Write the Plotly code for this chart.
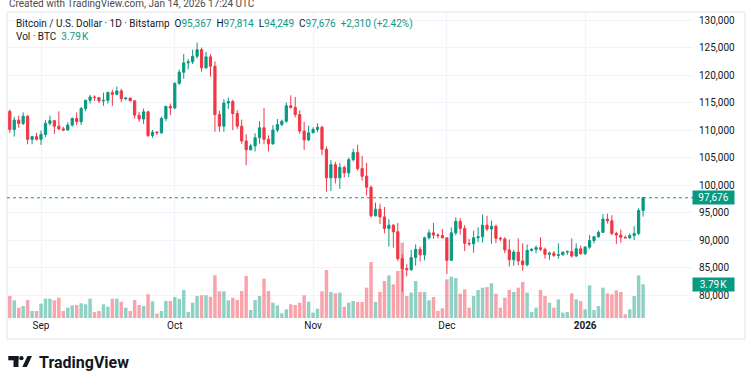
import plotly.graph_objects as go
import pandas as pd

# ---------------- data (prices in thousands of USD, volume in thousands of BTC) -------------
dates = pd.date_range("2025-08-25", periods=143, freq="D")

open_k = [113.4, 110.1, 111.8, 111.2, 112.5, 108.3, 108.8, 108.3, 109.2, 111.2,
          111.7, 110.7, 110.2, 110.0, 110.9, 112.1, 111.5, 113.9, 115.4, 116.0,
          115.9, 115.3, 115.4, 116.8, 116.5, 117.1, 115.7, 115.8, 115.3, 112.7,
          112.0, 113.3, 109.0, 109.6, 109.5, 112.1, 114.3, 114.0, 118.5, 120.5,
          122.2, 122.4, 123.4, 124.6, 121.3, 123.3, 121.6, 112.8, 110.7, 114.9,
          115.2, 113.0, 110.7, 108.0, 106.4, 107.1, 108.6, 110.4, 108.3, 107.5,
          110.0, 111.0, 111.6, 114.4, 114.1, 112.8, 109.8, 108.2, 109.5, 110.1,
          110.5, 106.5, 101.3, 103.7, 101.3, 103.2, 102.2, 104.6, 105.9, 103.0,
          101.6, 99.6, 94.4, 95.6, 94.2, 92.1, 92.7, 91.5, 86.6, 84.8,
          84.6, 86.8, 88.3, 87.3, 90.4, 91.3, 90.9, 90.8, 90.4, 86.3,
          91.3, 93.4, 92.1, 89.4, 89.3, 90.4, 90.6, 92.7, 92.0, 92.5,
          90.3, 90.2, 88.2, 86.4, 87.8, 86.2, 85.5, 88.1, 88.3, 88.6,
          88.3, 87.4, 87.6, 87.2, 87.3, 87.8, 87.9, 87.1, 88.4, 87.5,
          88.7, 89.9, 90.6, 91.4, 93.8, 93.5, 91.2, 90.9, 90.5, 90.4,
          90.8, 91.2, 95.367]

close_k = [110.1, 111.8, 111.2, 112.5, 108.3, 108.8, 108.3, 109.2, 111.2, 111.7,
           110.7, 110.2, 110.0, 110.9, 112.1, 111.5, 113.9, 115.4, 116.0, 115.9,
           115.3, 115.4, 116.8, 116.5, 117.1, 115.7, 115.8, 115.3, 112.7, 112.0,
           113.3, 109.0, 109.6, 109.5, 112.1, 114.3, 114.0, 118.5, 120.5, 122.2,
           122.4, 123.4, 124.6, 121.3, 123.3, 121.6, 112.8, 110.7, 114.9, 115.2,
           113.0, 110.7, 108.0, 106.4, 107.1, 108.6, 110.4, 108.3, 107.5, 110.0,
           111.0, 111.6, 114.4, 114.1, 112.8, 109.8, 108.2, 109.5, 110.1, 110.5,
           106.5, 101.3, 103.7, 101.3, 103.2, 102.2, 104.6, 105.9, 103.0, 101.6,
           99.6, 94.4, 95.6, 94.2, 92.1, 92.7, 91.5, 86.6, 84.8, 84.6,
           86.8, 88.3, 87.3, 90.4, 91.3, 90.9, 90.8, 90.4, 86.3, 91.3,
           93.4, 92.1, 89.4, 89.3, 90.4, 90.6, 92.7, 92.0, 92.5, 90.3,
           90.2, 88.2, 86.4, 87.8, 86.2, 85.5, 88.1, 88.3, 88.6, 88.3,
           87.4, 87.6, 87.2, 87.3, 87.8, 87.9, 87.1, 88.4, 87.5, 88.7,
           89.9, 90.6, 91.4, 93.8, 93.5, 91.2, 90.9, 90.5, 90.4, 90.8,
           91.2, 95.367, 97.676]

high_k = [113.7, 112.4, 112.6, 113.2, 112.7, 108.9, 109.5, 109.9, 111.8, 112.6,
          111.8, 113.4, 110.6, 111.4, 112.3, 113.2, 114.2, 115.5, 116.4, 116.3,
          116.0, 116.8, 117.0, 117.3, 117.9, 117.5, 116.0, 115.9, 115.4, 113.3,
          113.9, 113.5, 110.0, 109.8, 112.4, 114.4, 114.8, 118.6, 121.0, 123.8,
          122.9, 124.6, 125.9, 125.0, 124.2, 123.8, 122.5, 113.5, 115.6, 115.9,
          115.5, 113.6, 111.9, 109.2, 107.5, 109.4, 111.6, 114.0, 109.0, 110.9,
          112.0, 111.9, 115.0, 116.3, 116.0, 113.6, 111.5, 110.8, 110.5, 111.2,
          110.8, 107.0, 104.5, 104.2, 104.0, 103.5, 105.0, 106.6, 107.3, 105.3,
          104.0, 99.9, 96.8, 96.6, 96.0, 93.8, 92.9, 93.1, 87.4, 85.6,
          88.2, 89.2, 88.8, 90.6, 91.9, 93.1, 91.2, 92.0, 90.4, 92.3,
          94.1, 94.0, 92.7, 90.2, 91.7, 92.3, 94.6, 94.4, 93.5, 92.8,
          90.6, 90.5, 90.1, 88.2, 90.3, 89.4, 89.2, 88.5, 89.0, 90.5,
          88.6, 87.9, 88.0, 89.4, 87.9, 88.1, 90.3, 89.4, 89.0, 88.9,
          90.9, 90.7, 91.7, 94.7, 94.8, 94.5, 91.5, 91.9, 90.8, 91.2,
          92.5, 95.8, 97.814]

low_k = [109.5, 108.8, 110.4, 110.9, 107.4, 107.4, 108.1, 107.3, 108.7, 110.8,
         109.3, 110.0, 109.8, 109.9, 110.6, 110.9, 110.9, 113.4, 114.8, 115.3,
         114.9, 114.4, 114.8, 114.4, 116.3, 115.1, 115.4, 115.2, 112.1, 111.5,
         111.1, 108.7, 108.6, 109.1, 109.3, 111.6, 112.7, 113.8, 118.2, 119.3,
         121.0, 122.0, 123.0, 120.6, 121.1, 119.7, 109.7, 109.7, 109.7, 113.8,
         110.0, 110.2, 107.5, 103.6, 106.3, 106.1, 107.5, 107.4, 106.1, 107.3,
         109.6, 110.7, 111.3, 113.9, 112.3, 109.3, 106.4, 108.0, 109.4, 109.6,
         105.4, 98.8, 98.9, 100.3, 99.3, 101.4, 101.4, 104.3, 102.6, 100.8,
         98.1, 94.1, 94.3, 92.9, 91.2, 88.8, 88.6, 86.2, 80.6, 83.4,
         84.4, 85.3, 86.1, 86.3, 90.1, 90.2, 90.3, 90.3, 83.8, 86.2,
         90.9, 91.0, 88.0, 88.9, 87.7, 89.6, 89.5, 91.6, 89.3, 89.5,
         89.8, 87.6, 85.2, 85.3, 85.4, 84.4, 85.2, 87.9, 87.6, 88.0,
         86.6, 86.4, 86.9, 86.6, 87.2, 87.3, 86.8, 86.9, 87.3, 87.3,
         88.4, 89.4, 90.4, 91.3, 93.0, 90.9, 89.3, 89.5, 90.3, 90.2,
         90.0, 90.9, 94.249]

volume_k = [2.47, 1.99, 1.16, 1.35, 2.02, 0.79, 0.79, 1.61, 2.17, 2.17,
            1.99, 2.28, 0.79, 1.16, 1.42, 1.46, 1.65, 1.54, 2.17, 0.67,
            0.79, 1.54, 1.27, 2.17, 2.17, 1.83, 1.16, 0.79, 2.02, 1.46,
            1.35, 2.66, 1.87, 0.49, 0.79, 1.91, 1.91, 2.36, 2.17, 3.15,
            0.67, 1.72, 2.47, 2.55, 2.55, 2.39, 4.80, 3.00, 3.00, 1.99,
            2.28, 2.02, 3.03, 4.72, 0.90, 2.02, 2.47, 4.42, 3.03, 1.72,
            1.42, 0.53, 0.98, 1.54, 1.46, 1.72, 2.55, 1.83, 0.60, 1.05,
            3.00, 5.39, 2.92, 2.77, 2.85, 1.27, 1.72, 1.91, 1.80, 1.80,
            3.41, 6.29, 1.80, 2.92, 4.16, 4.79, 3.78, 5.28, 8.46, 2.47,
            2.85, 4.16, 2.92, 2.92, 1.99, 2.36, 0.79, 1.09, 4.34, 4.64,
            4.49, 2.73, 3.22, 1.16, 2.47, 3.15, 3.41, 3.48, 3.90, 2.73,
            1.16, 2.28, 3.15, 2.92, 3.41, 4.04, 2.85, 0.67, 1.16, 3.15,
            2.47, 1.72, 1.16, 2.10, 0.60, 0.67, 2.77, 2.10, 1.91, 0.98,
            3.67, 0.90, 1.35, 3.41, 2.77, 2.66, 3.11, 2.92, 0.42, 0.98,
            2.47, 4.79, 3.79]

price_ticks = [80000, 85000, 90000, 95000, 100000, 105000, 110000, 115000, 120000, 125000, 130000]
month_ticks = ["2025-09-01", "2025-10-01", "2025-11-01", "2025-12-01", "2026-01-01"]
month_labels = ["Sep", "Oct", "Nov", "Dec", "<b>2026</b>"]

opens = [v * 1000 for v in open_k]
highs = [v * 1000 for v in high_k]
lows = [v * 1000 for v in low_k]
closes = [v * 1000 for v in close_k]

# ---------------- styling ----------------
UP = "#089981"
DOWN = "#F23645"
UP_VOL = "rgba(8,153,129,0.45)"
DOWN_VOL = "rgba(242,54,69,0.45)"
GRID = "#f0f3fa"
TXT = "#131722"
FONT = "Roboto, Inter, 'Liberation Sans', sans-serif"

W, H = 750, 375
L, R, T, B = 7, 57, 12, 57
PW, PH = W - L - R, H - T - B


def px_x(px):
    return (px - L) / PW


def px_y(py):
    return (H - B - py) / PH


vol_colors = [UP_VOL if c >= o else DOWN_VOL for o, c in zip(opens, closes)]

fig = go.Figure()
fig.add_trace(go.Bar(
    x=dates, y=volume_k, marker=dict(color=vol_colors, line=dict(width=0)),
    yaxis="y", hoverinfo="skip", showlegend=False,
))
fig.add_trace(go.Candlestick(
    x=dates, open=opens, high=highs, low=lows, close=closes, yaxis="y2",
    increasing=dict(line=dict(color=UP, width=1), fillcolor=UP),
    decreasing=dict(line=dict(color=DOWN, width=1), fillcolor=DOWN),
    whiskerwidth=0, hoverinfo="skip", showlegend=False,
))

last_close = closes[-1]

shapes = [
    # last price dotted line
    dict(type="line", xref="paper", x0=0, x1=1, yref="y2", y0=last_close, y1=last_close,
         line=dict(color=UP, width=1, dash="dot")),
    # panel border
    dict(type="rect", xref="paper", yref="paper", x0=px_x(7), x1=px_x(745),
         y0=px_y(339), y1=px_y(12), line=dict(color="#e0e3eb", width=1), layer="below"),
    # TradingView logo mark
    dict(type="rect", xref="paper", yref="paper", x0=px_x(8.3), x1=px_x(18.5), y0=px_y(360.3), y1=px_y(356),
         fillcolor=TXT, line=dict(width=0)),
    dict(type="rect", xref="paper", yref="paper", x0=px_x(13.5), x1=px_x(18.5), y0=px_y(367), y1=px_y(356),
         fillcolor=TXT, line=dict(width=0)),
    dict(type="circle", xref="paper", yref="paper", x0=px_x(19.3), x1=px_x(23.6), y0=px_y(360.3), y1=px_y(356),
         fillcolor=TXT, line=dict(width=0)),
    dict(type="path", xref="paper", yref="paper",
         path=f"M {px_x(22.3)} {px_y(367)} L {px_x(26.8)} {px_y(367)} L {px_x(32)} {px_y(356)} L {px_x(27.5)} {px_y(356)} Z",
         fillcolor=TXT, line=dict(width=0)),
]


def fmt(v):
    return f"{v:,.0f}"


teal_span = "<span style='color:%s'>%s</span>"
legend_line = (
    "Bitcoin / U.S. Dollar · 1D · Bitstamp&nbsp;&nbsp;"
    + "O" + teal_span % (UP, fmt(opens[-1])) + "&nbsp;&nbsp;"
    + "H" + teal_span % (UP, fmt(highs[-1])) + "&nbsp;&nbsp;"
    + "L" + teal_span % (UP, fmt(lows[-1])) + "&nbsp;&nbsp;"
    + "C" + teal_span % (UP, fmt(closes[-1])) + "&nbsp;&nbsp;"
    + teal_span % (UP, "+2,310 (+2.42%)")
)
vol_line = "Vol · BTC&nbsp;&nbsp;" + teal_span % (UP, f"{volume_k[-1]:.2f}\u202fK")

annotations = [
    dict(text="Created with TradingView.com, Jan 14, 2026 17:24 UTC", xref="paper", yref="paper",
         x=px_x(7), y=px_y(3), xanchor="left", yanchor="middle", showarrow=False,
         font=dict(family=FONT, size=10, color="#4a4a4a")),
    dict(text=legend_line, xref="paper", yref="paper", x=px_x(13.5), y=px_y(24.5),
         xanchor="left", yanchor="middle", showarrow=False, font=dict(family=FONT, size=10, color=TXT)),
    dict(text=vol_line, xref="paper", yref="paper", x=px_x(13.5), y=px_y(36.5),
         xanchor="left", yanchor="middle", showarrow=False, font=dict(family=FONT, size=10, color=TXT)),
    dict(text=fmt(last_close), xref="paper", yref="y2", x=px_x(692), y=last_close,
         xanchor="left", yanchor="middle", showarrow=False, bgcolor=UP, borderpad=1,
         font=dict(family=FONT, size=10, color="white"), width=39),
    dict(text=f"{volume_k[-1]:.2f}\u202fK", xref="paper", yref="y", x=px_x(692), y=volume_k[-1],
         xanchor="left", yanchor="middle", showarrow=False, bgcolor=UP, borderpad=1,
         font=dict(family=FONT, size=10, color="white"), width=39),
    dict(text="<b>TradingView</b>", xref="paper", yref="paper", x=px_x(37), y=px_y(362.5),
         xanchor="left", yanchor="middle", showarrow=False,
         font=dict(family=FONT, size=16, color=TXT)),
]

fig.update_layout(
    width=W, height=H,
    margin=dict(l=L, r=R, t=T, b=B, pad=0),
    paper_bgcolor="white", plot_bgcolor="white",
    font=dict(family=FONT, size=10, color=TXT),
    bargap=0.22,
    showlegend=False,
    xaxis=dict(
        type="date", range=["2025-08-24 09:00", "2026-01-25 04:30"],
        tickvals=month_ticks, ticktext=month_labels,
        showgrid=True, gridcolor=GRID, gridwidth=1, zeroline=False, showline=False,
        ticks="", tickfont=dict(size=10, color=TXT), rangeslider=dict(visible=False),
        fixedrange=True,
    ),
    yaxis=dict(range=[0, 34.38], visible=False, showgrid=False, fixedrange=True),
    yaxis2=dict(
        overlaying="y", side="right", range=[75818, 131454],
        tickvals=price_ticks, tickformat=",d",
        showgrid=True, gridcolor=GRID, gridwidth=1, zeroline=False, showline=False,
        ticks="", ticklabelstandoff=5, tickfont=dict(size=10, color=TXT), fixedrange=True,
    ),
    shapes=shapes,
    annotations=annotations,
)

fig.write_html(
    "out.html",
    config={"displayModeBar": False, "staticPlot": True},
    post_script="document.body.style.margin='0';document.body.style.padding='0';",
)
